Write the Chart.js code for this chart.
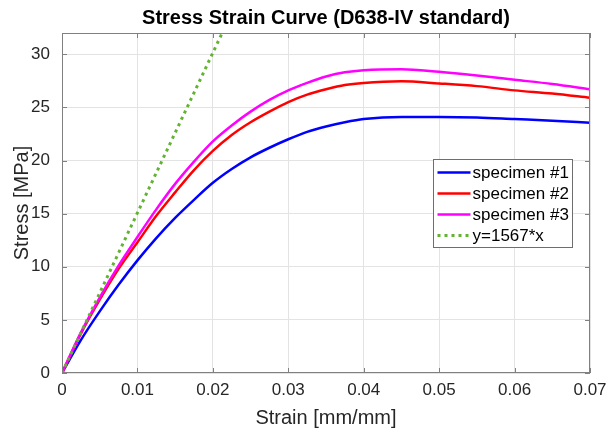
<!DOCTYPE html>
<html lang="en">
<head>
<meta charset="UTF-8">
<title>Stress Strain Curve (D638-IV standard)</title>
<script src="https://cdn.jsdelivr.net/npm/chart.js"></script>
<style>
    html, body {
        margin: 0;
        padding: 0;
        background-color: #ffffff;
    }
    #wrap {
        width: 609px;
        height: 434px;
    }
</style>
</head>
<body>
<div id="wrap"><canvas id="grafico" width="609" height="434"></canvas></div>
<script>
    // Datos
    const strain = [0, 0.0025, 0.005, 0.0075, 0.01, 0.0125, 0.015, 0.0175, 0.02, 0.0225, 0.025, 0.0275,
                    0.03, 0.0325, 0.035, 0.0375, 0.04, 0.045, 0.05, 0.055, 0.06, 0.065, 0.07];
    const specimen1 = [0, 3.1, 5.8, 8.3, 10.6, 12.7, 14.6, 16.3, 17.9, 19.2, 20.3, 21.2,
                       22.0, 22.7, 23.2, 23.6, 23.9, 24.1, 24.1, 24.05, 23.9, 23.75, 23.55];
    const specimen2 = [0, 3.7, 6.9, 9.8, 12.3, 14.8, 17.0, 19.1, 20.9, 22.4, 23.6, 24.6,
                       25.5, 26.2, 26.7, 27.1, 27.3, 27.45, 27.25, 27.0, 26.6, 26.3, 25.9];
    const specimen3 = [0, 3.8, 7.1, 10.1, 12.8, 15.4, 17.8, 19.9, 21.8, 23.3, 24.6, 25.7,
                       26.6, 27.3, 27.9, 28.3, 28.5, 28.6, 28.35, 28.0, 27.6, 27.2, 26.7];
    // recta y = 1567*x (dos extremos, como aparece en la figura)
    const fitStrain = [0, 0.0215];
    const fitStress = [0, 32.4];

    const xTicks = [0, 0.01, 0.02, 0.03, 0.04, 0.05, 0.06, 0.07];
    const yTicks = [0, 5, 10, 15, 20, 25, 30];

    const labels = ['specimen #1', 'specimen #2', 'specimen #3', 'y=1567*x'];
    const colores = ['#0000ff', '#ff0000', '#ff00ff', '#62b330'];

    function puntos(xs, ys) {
        return xs.map((v, i) => ({x: v, y: ys[i]}));
    }

    const fuente = "'Liberation Sans', Arial, sans-serif";
    const colorEje = '#808080';
    const colorTexto = '#262626';

    // Marco, marcas interiores y leyenda estilo MATLAB
    const marcoPlugin = {
        id: 'marco',
        afterDraw(chart) {
            const ctx = chart.ctx;
            const a = chart.chartArea;
            const x = chart.scales.x;
            const y = chart.scales.y;
            ctx.save();
            ctx.strokeStyle = colorEje;
            ctx.lineWidth = 1;
            ctx.strokeRect(Math.round(a.left) + 0.5, Math.round(a.top) + 0.5,
                           Math.round(a.right - a.left) - 1, Math.round(a.bottom - a.top) - 1);
            ctx.beginPath();
            xTicks.forEach(v => {
                const px = Math.round(x.getPixelForValue(v)) + 0.5;
                ctx.moveTo(px, a.bottom); ctx.lineTo(px, a.bottom - 5);
                ctx.moveTo(px, a.top); ctx.lineTo(px, a.top + 5);
            });
            yTicks.forEach(v => {
                const py = Math.round(y.getPixelForValue(v)) + 0.5;
                ctx.moveTo(a.left, py); ctx.lineTo(a.left + 5, py);
                ctx.moveTo(a.right, py); ctx.lineTo(a.right - 5, py);
            });
            ctx.stroke();

            // leyenda
            const w = 139, h = 88;
            const lx = Math.round(a.right - 18 - w) + 0.5;
            const ly = Math.round(a.top + 126) + 0.5;
            ctx.fillStyle = '#ffffff';
            ctx.fillRect(lx, ly, w, h);
            ctx.strokeStyle = '#6e6e6e';
            ctx.strokeRect(lx, ly, w, h);
            ctx.font = '17px ' + fuente;
            ctx.textBaseline = 'middle';
            ctx.textAlign = 'left';
            chart.data.datasets.forEach((ds, i) => {
                const cy = ly + 13 + i * 21;
                ctx.beginPath();
                ctx.strokeStyle = ds.borderColor;
                ctx.lineWidth = ds.borderWidth;
                ctx.setLineDash(ds.borderDash || []);
                ctx.moveTo(lx + 4, cy);
                ctx.lineTo(lx + 37, cy);
                ctx.stroke();
                ctx.setLineDash([]);
                ctx.fillStyle = '#000000';
                ctx.fillText(ds.label, lx + 39, cy + 1);
            });
            ctx.restore();
        }
    };

    const series = [specimen1, specimen2, specimen3];
    const datasets = series.map((s, i) => ({
        label: labels[i],
        data: puntos(strain, s),
        borderColor: colores[i],
        borderWidth: 2.5,
        pointRadius: 0,
        cubicInterpolationMode: 'monotone',
        order: 4 - i
    }));
    datasets.push({
        label: labels[3],
        data: puntos(fitStrain, fitStress),
        borderColor: colores[3],
        borderWidth: 3,
        borderDash: [3, 4],
        pointRadius: 0,
        order: 1
    });

    new Chart(document.getElementById('grafico').getContext('2d'), {
        type: 'line',
        data: { datasets: datasets },
        plugins: [marcoPlugin],
        options: {
            responsive: false,
            animation: false,
            devicePixelRatio: 1,
            layout: { padding: { left: 0, right: 19, top: 0, bottom: 0 } },
            plugins: {
                legend: { display: false },
                tooltip: { enabled: false },
                title: {
                    display: true,
                    fullSize: false,
                    text: 'Stress Strain Curve (D638-IV standard)',
                    color: '#000000',
                    font: { family: fuente, size: 20, weight: 'bold', lineHeight: 1.2 },
                    padding: { top: 6, bottom: 3 }
                }
            },
            scales: {
                x: {
                    type: 'linear',
                    min: 0,
                    max: 0.07,
                    afterFit(scale) {
                        scale.height = 61;
                        scale.paddingLeft = 0;
                        scale.paddingRight = 0;
                    },
                    afterBuildTicks(scale) { scale.ticks = xTicks.map(v => ({value: v})); },
                    grid: { color: '#e3e3e3', drawTicks: false },
                    border: { display: false },
                    ticks: {
                        color: colorTexto,
                        padding: 7,
                        maxRotation: 0,
                        font: { family: fuente, size: 17 },
                        callback: v => String(Number(v.toFixed(2)))
                    },
                    title: {
                        display: true,
                        text: 'Strain [mm/mm]',
                        color: colorTexto,
                        font: { family: fuente, size: 20, lineHeight: 1.2 },
                        padding: { top: 0, bottom: 4 }
                    }
                },
                y: {
                    type: 'linear',
                    min: 0,
                    max: 32,
                    afterFit(scale) {
                        scale.width = 62;
                        scale.paddingTop = 0;
                        scale.paddingBottom = 0;
                    },
                    afterBuildTicks(scale) { scale.ticks = yTicks.map(v => ({value: v})); },
                    grid: { color: '#e3e3e3', drawTicks: false },
                    border: { display: false },
                    ticks: {
                        color: colorTexto,
                        padding: 12,
                        font: { family: fuente, size: 17 }
                    },
                    title: {
                        display: true,
                        text: 'Stress [MPa]',
                        color: colorTexto,
                        font: { family: fuente, size: 20, lineHeight: 1.2 },
                        padding: { top: 10, bottom: 0 }
                    }
                }
            }
        }
    });
</script>
</body>
</html>
